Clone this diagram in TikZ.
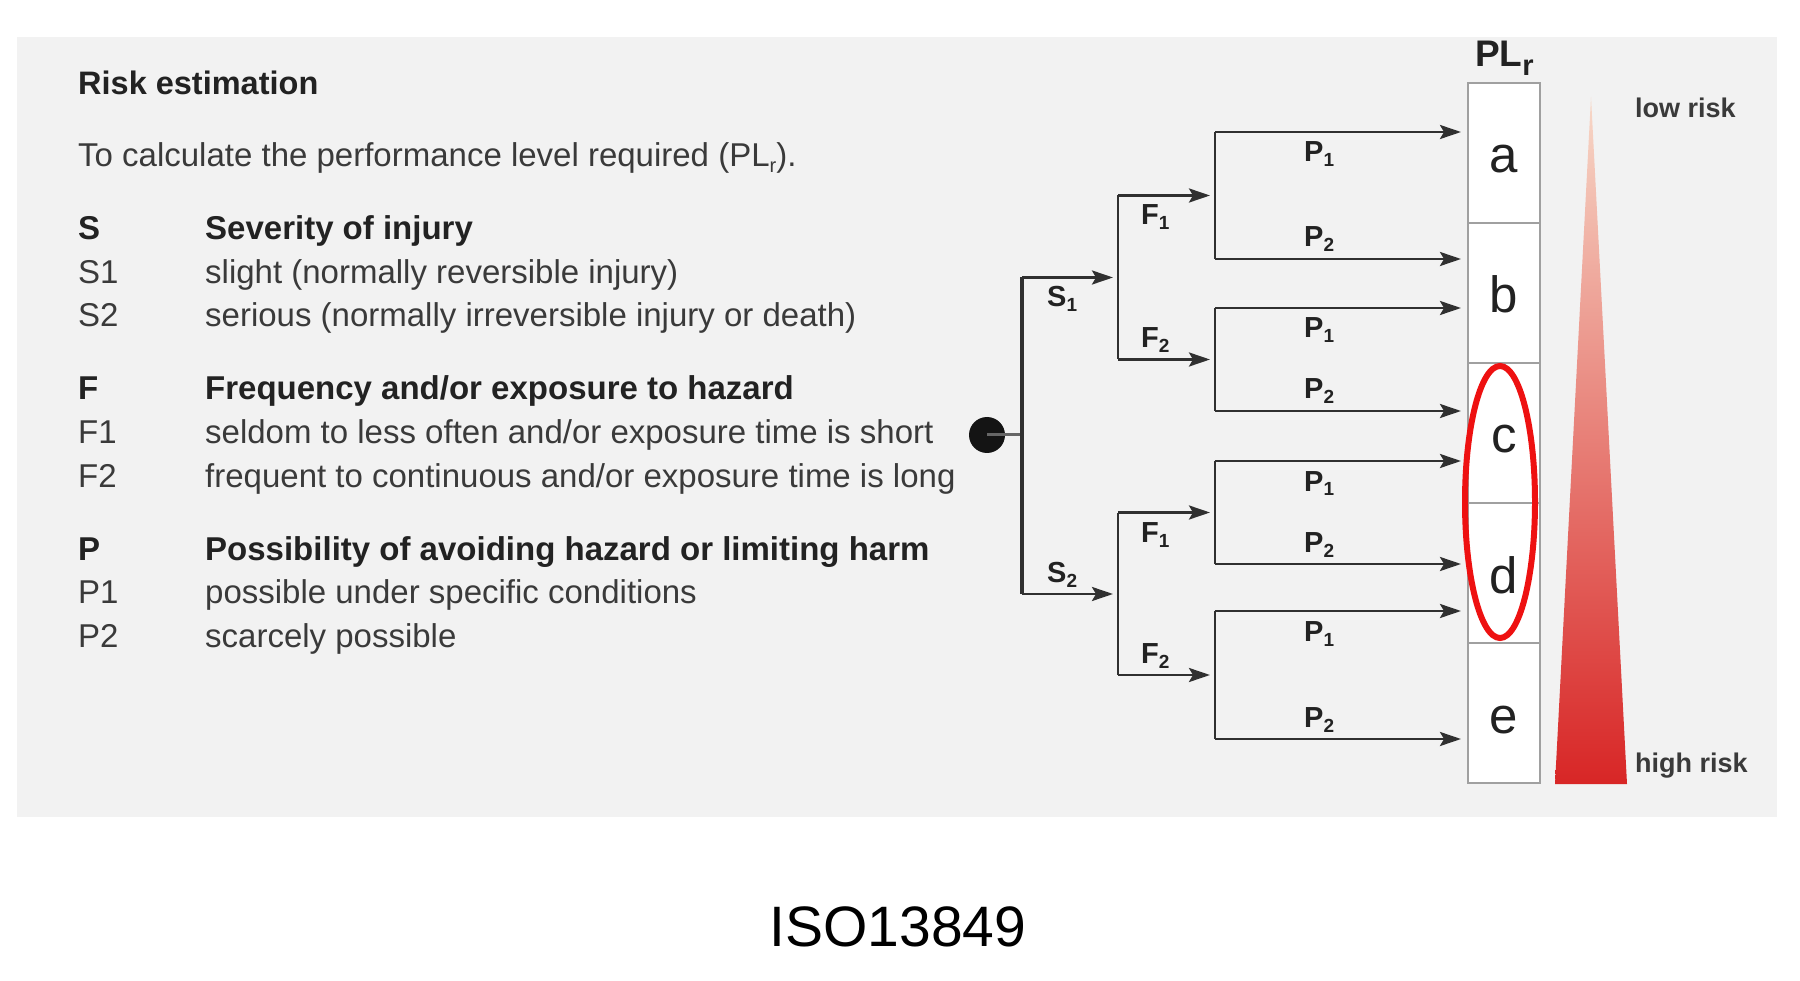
\documentclass[tikz,border=0pt]{standalone}
\usepackage{fontspec}
\setmainfont{Liberation Sans}
\usetikzlibrary{arrows.meta}
\definecolor{panel}{HTML}{F2F2F2}
\definecolor{txtc}{HTML}{3A3A3A}
\definecolor{txtb}{HTML}{222222}
\definecolor{lnc}{HTML}{303030}
\definecolor{boxln}{HTML}{A0A0A0}
\definecolor{ovalred}{HTML}{EE1111}
\definecolor{trtop}{HTML}{F7D8C8}
\definecolor{trmid}{HTML}{E77C60}
\definecolor{trbot}{HTML}{D82626}
\newcommand{\fsz}[1]{\fontsize{#1}{#1}\selectfont}
\newcommand{\lbsub}[2]{#1\raisebox{-5pt}{\fsz{19}#2}}
\begin{document}
\begin{tikzpicture}[x=1pt,y=-1pt,
  body/.style={inner sep=0pt, anchor=base west, text=txtc, font=\fsz{33}},
  head/.style={inner sep=0pt, anchor=base west, text=txtb, font=\fsz{33}\bfseries},
  lab/.style={inner sep=0pt, anchor=base west, text=txtb, font=\fsz{29}\bfseries},
  br/.style={draw=lnc, line width=2.7pt},
  arr/.style={br, -{Stealth[length=21pt,width=14pt,inset=4pt]}, shorten >=5pt},
  plbox/.style={draw=boxln, line width=2pt, fill=white, minimum width=72pt, minimum height=140pt, inner sep=0pt},
  plletter/.style={inner sep=0pt, anchor=base, text=txtb, font=\fsz{51}},
  risk/.style={inner sep=0pt, anchor=base west, text=txtc, font=\fsz{27}\bfseries}]
\useasboundingbox (0,0) rectangle (1800,981);
\fill[white] (0,0) rectangle (1800,981);
\fill[panel] (17,37) rectangle (1777,817);

% ---- left text
\node[inner sep=0pt, anchor=base west, text=txtb, font=\fsz{32.5}\bfseries] (title) at (78,95) {Risk estimation};
\node[body] (sub) at (78,167) {To calculate the performance level required (PL\raisebox{-6pt}{\fsz{20}r}).};

\node[head] (kS) at (78,240) {S};
\node[head] (dS) at (205,240) {Severity of injury};
\node[body] (kS1) at (78,283.5) {S1};
\node[body] (dS1) at (205,283.5) {slight (normally reversible injury)};
\node[body] (kS2) at (78,327) {S2};
\node[body] (dS2) at (205,327) {serious (normally irreversible injury or death)};

\node[head] (kF) at (78,400) {F};
\node[head] (dF) at (205,400) {Frequency and/or exposure to hazard};
\node[body] (kF1) at (78,443.5) {F1};
\node[body] (dF1) at (205,443.5) {seldom to less often and/or exposure time is short};
\node[body] (kF2) at (78,487) {F2};
\node[body] (dF2) at (205,487) {frequent to continuous and/or exposure time is long};

\node[head] (kP) at (78,560) {P};
\node[head] (dP) at (205,560) {Possibility of avoiding hazard or limiting harm};
\node[body] (kP1) at (78,603.5) {P1};
\node[body] (dP1) at (205,603.5) {possible under specific conditions};
\node[body] (kP2) at (78,647) {P2};
\node[body] (dP2) at (205,647) {scarcely possible};

% ---- PL_r column
\node[plbox] (ba) at (1504,153) {};
\node[plbox] (bb) at (1504,293) {};
\node[plbox] (bc) at (1504,433) {};
\node[plbox] (bd) at (1504,573) {};
\node[plbox] (be) at (1504,713) {};
\node[plletter] (la) at (1504,173) {a};
\node[plletter] (lb) at (1504,313) {b};
\node[plletter] (lc) at (1504,453) {c};
\node[plletter] (ld) at (1504,593) {d};
\node[plletter] (le) at (1504,733) {e};
\node[inner sep=0pt, anchor=base west, text=txtb, font=\fsz{37}\bfseries] (plr) at (1475,67) {PL\raisebox{-9pt}{\fsz{29}r}};

% ---- risk triangle
\shade[top color=trtop, middle color=trmid, bottom color=trbot] (1591,97) -- (1627,784) -- (1555,784) -- cycle;
\node[risk] (low) at (1635,118) {low risk};
\node[risk] (high) at (1635,772) {high risk};

% ---- decision tree
\node[circle, fill=black!92, minimum size=36pt, inner sep=0pt] (dot) at (987,435) {};
\coordinate (sm) at (1022,435);
\coordinate (sA) at (1022,277.5);
\coordinate (sB) at (1022,594);
\draw[draw=black!60, line width=3pt] (dot.center) -- (sm);
\draw[draw=lnc, line width=4pt] (sA) -- (sB);

% F trunks
\coordinate (fA) at (1118,195.5);
\coordinate (fAm) at (1118,277.5);
\coordinate (fB) at (1118,359.5);
\coordinate (fC) at (1118,512.5);
\coordinate (fCm) at (1118,594);
\coordinate (fD) at (1118,675);
\draw[br] (fA) -- (fB);
\draw[br] (fC) -- (fD);
\draw[arr] (sA) -- (fAm);
\draw[arr] (sB) -- (fCm);

% P trunks
\coordinate (pA1) at (1215,132);   \coordinate (pA2) at (1215,259);   \coordinate (pAm) at (1215,195.5);
\coordinate (pB1) at (1215,308);   \coordinate (pB2) at (1215,411);   \coordinate (pBm) at (1215,359.5);
\coordinate (pC1) at (1215,461);   \coordinate (pC2) at (1215,564);   \coordinate (pCm) at (1215,512.5);
\coordinate (pD1) at (1215,611);   \coordinate (pD2) at (1215,739);   \coordinate (pDm) at (1215,675);
\draw[br] (pA1) -- (pA2);
\draw[br] (pB1) -- (pB2);
\draw[br] (pC1) -- (pC2);
\draw[br] (pD1) -- (pD2);
\draw[arr] (fA) -- (pAm);
\draw[arr] (fB) -- (pBm);
\draw[arr] (fC) -- (pCm);
\draw[arr] (fD) -- (pDm);

% P arrows to PL boxes
\draw[arr, shorten >=6pt] (pA1) -- (pA1 -| ba.west);
\draw[arr, shorten >=6pt] (pA2) -- (pA2 -| bb.west);
\draw[arr, shorten >=6pt] (pB1) -- (pB1 -| bb.west);
\draw[arr, shorten >=6pt] (pB2) -- (pB2 -| bc.west);
\draw[arr, shorten >=6pt] (pC1) -- (pC1 -| bc.west);
\draw[arr, shorten >=6pt] (pC2) -- (pC2 -| bd.west);
\draw[arr, shorten >=6pt] (pD1) -- (pD1 -| bd.west);
\draw[arr, shorten >=6pt] (pD2) -- (pD2 -| be.west);

% labels
\node[lab] (lS1) at (1047,307) {\lbsub{S}{1}};
\node[lab] (lS2) at (1047,582) {\lbsub{S}{2}};
\node[lab] (lF11) at (1141,225) {\lbsub{F}{1}};
\node[lab] (lF12) at (1141,347.5) {\lbsub{F}{2}};
\node[lab] (lF21) at (1141,542) {\lbsub{F}{1}};
\node[lab] (lF22) at (1141,663) {\lbsub{F}{2}};
\node[lab] (lP11) at (1304,162) {\lbsub{P}{1}};
\node[lab] (lP12) at (1304,247) {\lbsub{P}{2}};
\node[lab] (lP21) at (1304,338) {\lbsub{P}{1}};
\node[lab] (lP22) at (1304,399) {\lbsub{P}{2}};
\node[lab] (lP31) at (1304,491) {\lbsub{P}{1}};
\node[lab] (lP32) at (1304,552) {\lbsub{P}{2}};
\node[lab] (lP41) at (1304,641) {\lbsub{P}{1}};
\node[lab] (lP42) at (1304,727) {\lbsub{P}{2}};

% red oval
\draw[draw=ovalred, line width=6pt] (1500,502) ellipse [x radius=35, y radius=136];

% caption
\node[inner sep=0pt, anchor=base, text=black, font=\fsz{57}] (iso) at (898,946) {ISO13849};
\end{tikzpicture}
\end{document}
